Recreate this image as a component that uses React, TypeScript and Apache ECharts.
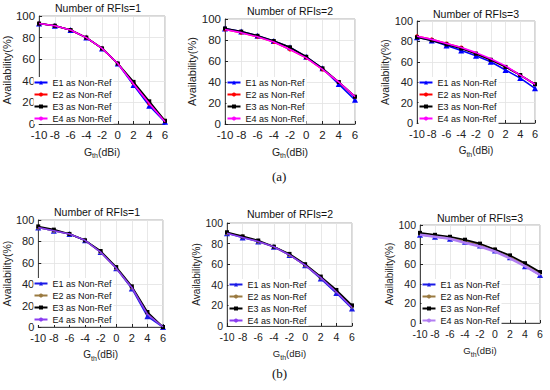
import React, { useEffect, useRef } from "react";
import * as echarts from "echarts";

const xValues = [-10, -8, -6, -4, -2, 0, 2, 4, 6];
const seriesNames = ["E1 as Non-Ref", "E2 as Non-Ref", "E3 as Non-Ref", "E4 as Non-Ref"];
const panelTitles = ["Number of RFIs=1", "Number of RFIs=2", "Number of RFIs=3", "Number of RFIs=1", "Number of RFIs=2", "Number of RFIs=3"];
const yTicks = [0, 20, 40, 60, 80, 100];

// (a) row
const a1E1 = [93, 91, 87, 80, 70, 56, 36, 17, 2];
const a1E2 = [93, 91, 87, 80, 70, 56, 38, 19, 3];
const a1E3 = [93, 91, 87, 80, 70, 56, 39, 21, 3];
const a1E4 = [93, 91, 87, 80, 70, 56, 37, 19, 2];

const a2E1 = [91, 88, 84, 79, 73, 64, 53, 38, 23];
const a2E2 = [90, 87, 83, 78, 71, 63, 52, 40, 26];
const a2E3 = [91, 88, 84, 79, 73, 64, 53, 40, 26];
const a2E4 = [90, 87, 83, 78, 71, 63, 52, 40, 26];

const a3E1 = [84, 81, 76, 71, 66, 60, 52, 44, 34];
const a3E2 = [85, 82, 78, 74, 68, 62, 55, 47, 38];
const a3E3 = [84, 81, 77, 73, 68, 62, 55, 47, 38];
const a3E4 = [85, 82, 78, 74, 69, 63, 56, 47, 38];

// (b) row
const b1E1 = [93, 90, 87, 81, 70, 55, 36, 10, 0];
const b1E2 = [93, 90, 87, 81, 70, 55, 37, 13, 0];
const b1E3 = [94, 91, 87, 81, 71, 56, 38, 14, 0];
const b1E4 = [93, 90, 87, 81, 70, 55, 37, 12, 0];

const b2E1 = [90, 86, 82, 77, 69, 59, 46, 32, 17];
const b2E2 = [90, 87, 82, 77, 69, 59, 47, 34, 19];
const b2E3 = [91, 87, 83, 77, 70, 60, 48, 35, 20];
const b2E4 = [90, 86, 82, 77, 69, 59, 47, 33, 18];

const b3E1 = [90, 88, 86, 83, 79, 74, 67, 58, 49];
const b3E2 = [91, 89, 87, 84, 80, 75, 68, 60, 51];
const b3E3 = [92, 90, 88, 85, 81, 75, 69, 61, 52];
const b3E4 = [90, 88, 86, 82, 78, 73, 66, 58, 49];

const panelData = [
  [a1E1, a1E2, a1E3, a1E4],
  [a2E1, a2E2, a2E3, a2E4],
  [a3E1, a3E2, a3E3, a3E4],
  [b1E1, b1E2, b1E3, b1E4],
  [b2E1, b2E2, b2E3, b2E4],
  [b3E1, b3E2, b3E3, b3E4],
];

const colorsA = ["#0000ff", "#ff0000", "#000000", "#ff00ff"];
const colorsB = ["#1a1ae6", "#9a7a40", "#000000", "#8a3cf0"];
const symbols = ["triangle", "circle", "rect", "none"];

const grids = [
  { left: 32, top: 16, width: 133, height: 108 },
  { left: 225, top: 19, width: 130, height: 105 },
  { left: 417, top: 21, width: 118, height: 102 },
  { left: 32, top: 220, width: 131, height: 107 },
  { left: 227, top: 223, width: 125, height: 103 },
  { left: 420, top: 225, width: 120, height: 98 },
];
const titlePos = [
  { x: 98, y: 2 }, { x: 290, y: 5 }, { x: 476, y: 8 },
  { x: 97, y: 206 }, { x: 290, y: 208 }, { x: 480, y: 212 },
];
const legendPos = [
  { x: 33.5, y: 77 }, { x: 226.5, y: 77 }, { x: 418.5, y: 77 },
  { x: 33.5, y: 278 }, { x: 228.5, y: 279 }, { x: 421.5, y: 279 },
];
const fontSizes = [10.5, 10.5, 10, 10, 9.5, 9.5];

export default function App() {
  const ref = useRef<HTMLDivElement>(null);
  useEffect(() => {
    if (!ref.current) return;
    const chart = echarts.init(ref.current, undefined, { renderer: "svg" });
    const font = "Liberation Sans";
    const series: any[] = [];
    const legends: any[] = [];
    panelData.forEach((lines, p) => {
      const colors = p < 3 ? colorsA : colorsB;
      const names: string[] = [];
      lines.forEach((vals, k) => {
        const name = seriesNames[k] + "#" + p;
        names.push(name);
        const col = p === 5 && k === 3 ? "#b27ef2" : colors[k];
        series.push({
          type: "line",
          name,
          xAxisIndex: p,
          yAxisIndex: p,
          data: vals.map((v, i) => [xValues[i], v]),
          symbol: symbols[k],
          symbolSize: k === 0 ? 6 : 4,
          showSymbol: k !== 3,
          lineStyle: { color: col, width: p === 5 && k === 3 ? 2.6 : 1.6 },
          itemStyle: { color: col },
          z: 2 + k,
        });
      });
      legends.push({
        left: legendPos[p].x,
        top: legendPos[p].y,
        orient: "vertical",
        itemWidth: 13,
        itemHeight: 5,
        itemGap: 3,
        padding: [1, 2, 1, 0],
        backgroundColor: "#ffffff",
        data: names,
        formatter: (n: string) => n.split("#")[0],
        textStyle: { fontSize: 9, color: "#111", fontFamily: font },
        selectedMode: false,
        z: 1,
      });
    });

    const option: any = {
      animation: false,
      backgroundColor: "#ffffff",
      title: panelTitles.map((t, p) => ({
        text: t,
        left: titlePos[p].x,
        top: titlePos[p].y,
        textAlign: "center",
        padding: 0,
        textStyle: { fontSize: 10.5, fontWeight: "normal", color: "#111", fontFamily: font },
      })),
      grid: grids.map((g) => ({ ...g, show: true, borderColor: "#9a9a9a", borderWidth: 0.8, backgroundColor: "#fff" })),
      legend: legends,
      xAxis: grids.map((_, p) => ({
        type: "value",
        gridIndex: p,
        min: -10,
        max: 6,
        interval: 2,
        name: "G{sub|th}(dBi)",
        nameLocation: "middle",
        nameGap: 20,
        nameTextStyle: {
          fontSize: fontSizes[p],
          color: "#222",
          fontFamily: font,
          rich: { sub: { fontSize: 7, color: "#222", fontFamily: font, verticalAlign: "bottom", padding: [8, 0, 0, 0] } },
        },
        axisLine: { show: true, onZero: false, lineStyle: { color: "#222", width: 0.8 } },
        axisTick: { show: true, inside: true, length: 3, lineStyle: { color: "#222" } },
        axisLabel: { fontSize: fontSizes[p] + 1, color: "#222", fontFamily: font, margin: 5 },
        splitLine: { show: true, lineStyle: { color: "#e2e2e2", width: 0.8 } },
      })),
      yAxis: grids.map((_, p) => ({
        type: "value",
        gridIndex: p,
        min: 0,
        max: 100,
        interval: 20,
        name: "Availability(%)",
        nameLocation: "middle",
        nameGap: 22,
        nameTextStyle: { fontSize: fontSizes[p] + 0.5, color: "#222", fontFamily: font },
        axisLine: { show: true, onZero: false, lineStyle: { color: "#222", width: 0.8 } },
        axisTick: { show: true, inside: true, length: 3, lineStyle: { color: "#222" } },
        axisLabel: { fontSize: fontSizes[p] + 1, color: "#222", fontFamily: font, margin: 4, customValues: yTicks },
        splitLine: { show: true, lineStyle: { color: "#e2e2e2", width: 0.8 } },
      })),
      series,
      graphic: [
        { type: "text", left: 272, top: 170, style: { text: "(a)", fontSize: 13, fontFamily: "Liberation Serif", fill: "#111" } },
        { type: "text", left: 272, top: 367, style: { text: "(b)", fontSize: 13, fontFamily: "Liberation Serif", fill: "#111" } },
      ],
    };
    chart.setOption(option);
    return () => chart.dispose();
  }, []);
  return <div ref={ref} style={{ width: 550, height: 390, position: "absolute", left: 0, top: 0 }} />;
}
